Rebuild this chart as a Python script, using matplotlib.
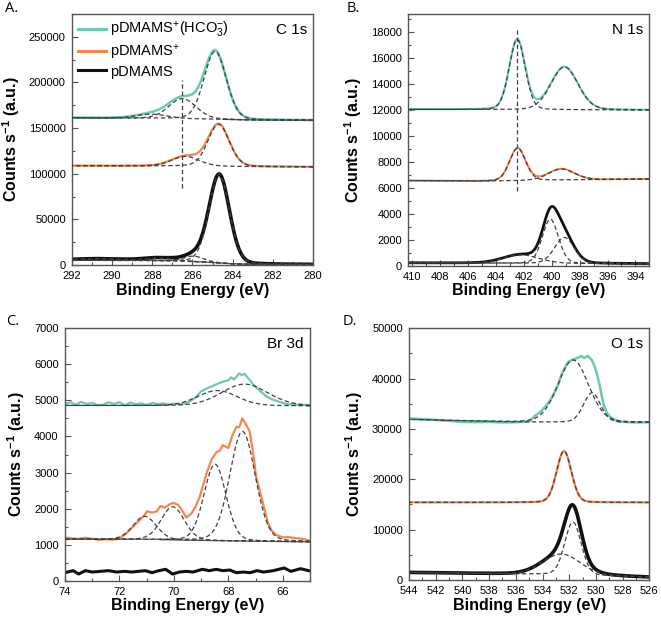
import numpy as np
import matplotlib.pyplot as plt
from matplotlib.ticker import MultipleLocator

plt.rcParams['font.family'] = ['Liberation Sans', 'DejaVu Sans']
plt.rcParams['mathtext.fontset'] = 'custom'
plt.rcParams['mathtext.rm'] = 'Liberation Sans'
plt.rcParams['mathtext.it'] = 'Liberation Sans:italic'
plt.rcParams['mathtext.bf'] = 'Liberation Sans:bold'

TEAL = '#6cc9b4'
ORANGE = '#f9844f'
BLACK = '#111111'
FIT = '#404040'

# ---------------------------------------------------------
# Fit components: (centre eV, height, FWHM eV)
# Backgrounds: anchor energies / counts
# ---------------------------------------------------------
# C 1s
c1s_hco3_peaks = [(284.87, 74200, 1.30), (286.50, 22000, 1.60), (288.00, 4500, 1.80)]
c1s_hco3_bg_e = [292, 288, 285, 283, 280]
c1s_hco3_bg_y = [161300, 160800, 159800, 158900, 158600]
c1s_plus_peaks = [(284.70, 46000, 1.25), (286.35, 10500, 1.60)]
c1s_plus_bg_e = [292, 286, 283, 280]
c1s_plus_bg_y = [108800, 108500, 107800, 107500]
c1s_neutral_peaks = [(284.67, 97000, 1.20), (285.95, 6000, 1.20), (287.60, 3000, 1.80), (290.60, 1800, 3.00)]
c1s_neutral_bg_e = [292, 288, 286, 285, 284, 283, 280]
c1s_neutral_bg_y = [5200, 4700, 3800, 2800, 1300, 700, 500]
c1s_guide = (286.54, 84000, 202600)

# N 1s
n1s_hco3_peaks = [(402.48, 5400, 1.35), (399.09, 3300, 2.30)]
n1s_hco3_bg_e = [410.3, 393]
n1s_hco3_bg_y = [12050, 12000]
n1s_plus_peaks = [(402.45, 2500, 1.35), (399.30, 850, 2.20)]
n1s_plus_bg_e = [410.3, 405, 400, 393]
n1s_plus_bg_y = [6560, 6520, 6600, 6680]
n1s_neutral_peaks = [(400.10, 3400, 1.36), (399.09, 2000, 1.67), (402.20, 650, 3.00)]
n1s_neutral_bg_e = [410.3, 393]
n1s_neutral_bg_y = [220, 150]
n1s_guide = (402.48, 5750, 18250)

# Br 3d
br3d_hco3_peaks = [(68.40, 420, 1.70), (67.40, 600, 2.00)]
br3d_hco3_bg_e = [74, 65]
br3d_hco3_bg_y = [4860, 4850]
br3d_plus_peaks = [(71.07, 640, 1.00), (70.04, 920, 1.00), (68.49, 2120, 0.95), (67.48, 3040, 1.10)]
br3d_plus_bg_e = [74, 71, 70, 68, 66, 65]
br3d_plus_bg_y = [1150, 1145, 1130, 1105, 1085, 1080]

br3d_hco3_e = [74.0, 73.8, 73.6, 73.4, 73.2, 73.0, 72.8, 72.6, 72.4, 72.2, 72.0, 71.8, 71.6, 71.4,
               71.2, 71.0, 70.8, 70.6, 70.4, 70.2, 70.0, 69.8, 69.6, 69.4, 69.2, 69.0, 68.8, 68.6,
               68.4, 68.2, 68.0, 67.9, 67.8, 67.7, 67.6, 67.5, 67.4, 67.3, 67.2, 67.1, 67.0, 66.8,
               66.6, 66.4, 66.2, 66.0, 65.8, 65.6, 65.4, 65.2, 65.0]
br3d_hco3_y = [4900, 4950, 4880, 4960, 4900, 4930, 4870, 4880, 4950, 4900, 4950, 4860, 4940, 4890,
               4920, 4870, 4930, 4900, 4920, 4880, 4910, 4890, 4920, 4980, 5080, 5250, 5330, 5390,
               5460, 5520, 5560, 5640, 5580, 5660, 5750, 5700, 5740, 5640, 5560, 5450, 5380, 5240,
               5110, 5030, 4980, 4930, 4890, 4900, 4870, 4880, 4840]
br3d_plus_e = [74.0, 73.75, 73.5, 73.25, 73.0, 72.75, 72.5, 72.25, 72.0, 71.75, 71.5, 71.25, 71.1,
               70.98, 70.8, 70.63, 70.5, 70.33, 70.15, 70.02, 69.84, 69.7, 69.54, 69.35, 69.2, 69.05,
               68.8, 68.62, 68.44, 68.3, 68.2, 68.0, 67.85, 67.7, 67.6, 67.49, 67.34, 67.22, 67.1,
               66.98, 66.85, 66.73, 66.55, 66.4, 66.24, 66.0, 65.8, 65.63, 65.39, 65.2, 65.0]
br3d_plus_y = [1200, 1175, 1160, 1190, 1165, 1130, 1150, 1135, 1170, 1310, 1500, 1690, 1800,
               1930, 1890, 1920, 2070, 2030, 2120, 2160, 2100, 1950, 1750, 1870, 2060, 2330,
               2980, 3350, 3560, 3620, 3760, 3680, 4030, 4270, 4250, 4500, 4320, 4140, 3600,
               2890, 2500, 2150, 1600, 1380, 1270, 1200, 1210, 1190, 1170, 1150, 1100]
br3d_neutral_e = [74.0, 73.7, 73.5, 73.25, 73.0, 72.7, 72.4, 72.1, 71.8, 71.55, 71.3, 71.05, 70.8,
                  70.55, 70.3, 70.05, 69.8, 69.55, 69.3, 68.95, 68.7, 68.45, 68.2, 67.95, 67.7,
                  67.45, 67.2, 66.95, 66.7, 66.35, 65.95, 65.7, 65.35, 65.05]
br3d_neutral_y = [222, 278, 185, 278, 240, 259, 278, 240, 259, 240, 259, 278, 222, 278, 315, 185,
                  240, 259, 240, 315, 278, 315, 278, 296, 222, 240, 222, 278, 240, 278, 352, 259,
                  333, 278]

# O 1s
o1s_hco3_peaks = [(531.70, 12350, 2.70), (530.29, 5850, 1.50)]
o1s_hco3_bg_e = [544, 536, 526]
o1s_hco3_bg_y = [31900, 31400, 31300]
o1s_hco3_e = [544, 543, 542, 541, 540, 539, 538, 537, 536, 535, 534.56, 534.2, 533.8, 533.4,
              533.07, 532.8, 532.6, 532.3, 532.07, 531.7, 531.3, 531.07, 530.9, 530.6, 530.3,
              530.1, 529.9, 529.7, 529.55, 529.4, 529.2, 529.0, 528.8, 528.3, 527.5, 526.8, 526]
o1s_hco3_y = [32100, 31950, 31800, 31600, 31400, 31350, 31400, 31300, 31350, 31500, 32640, 33300,
              34400, 35800, 37400, 39000, 40700, 42300, 43360, 43800, 44200, 44500, 44100, 44500,
              43700, 42500, 40700, 38500, 36400, 34700, 33300, 32600, 32100, 31500, 31350, 31300,
              31350]
o1s_plus_peaks = [(532.39, 10200, 1.30)]
o1s_plus_bg_e = [544, 526]
o1s_plus_bg_y = [15420, 15400]
o1s_neutral_peaks = [(531.72, 10500, 1.45), (532.57, 4100, 3.30)]
o1s_neutral_bg_e = [544, 536, 534, 530, 528, 526]
o1s_neutral_bg_y = [1500, 1200, 1150, 900, 750, 550]


def pv(e, centre, height, fwhm, eta=0.12):
    x = (e - centre) / fwhm
    g = np.exp(-4 * np.log(2) * x ** 2)
    l = 1.0 / (1.0 + 4 * x ** 2)
    return height * ((1 - eta) * g + eta * l)


def draw_spectrum(ax, grid, peaks, bg_e, bg_y, color, lw, meas_e=None, meas_y=None, solid_bg=None):
    if bg_e[0] > bg_e[-1]:
        bg = np.interp(grid, bg_e[::-1], bg_y[::-1])
    else:
        bg = np.interp(grid, bg_e, bg_y)
    comps = [pv(grid, *p) for p in peaks]
    envelope = bg + np.sum(comps, axis=0)
    if meas_e is None:
        ax.plot(grid, envelope, color=color, lw=lw, zorder=2)
    else:
        ax.plot(meas_e, meas_y, color=color, lw=lw, zorder=2)
    if solid_bg is not None:
        m = grid <= solid_bg
        ax.plot(grid[m], bg[m], color='#555555', lw=0.9, zorder=3)
    for c in comps:
        ax.plot(grid, bg + c, color=FIT, lw=0.9, ls=(0, (3.5, 2.2)), zorder=4)


fig = plt.figure(figsize=(6.61, 6.25), dpi=100)
axA = fig.add_axes([0.1089, 0.576, 0.3646, 0.4016])
axB = fig.add_axes([0.6177, 0.5749, 0.3646, 0.4027])
axC = fig.add_axes([0.0983, 0.0709, 0.3707, 0.4038])
axD = fig.add_axes([0.6188, 0.0720, 0.3635, 0.4027])

# A. C 1s
g = np.linspace(280, 292, 800)
draw_spectrum(axA, g, c1s_neutral_peaks, c1s_neutral_bg_e, c1s_neutral_bg_y, BLACK, 2.6, solid_bg=286)
draw_spectrum(axA, g, c1s_plus_peaks, c1s_plus_bg_e, c1s_plus_bg_y, ORANGE, 1.6)
draw_spectrum(axA, g, c1s_hco3_peaks, c1s_hco3_bg_e, c1s_hco3_bg_y, TEAL, 1.8, solid_bg=284.5)
axA.plot([c1s_guide[0]] * 2, c1s_guide[1:], color=FIT, lw=0.9, ls=(0, (3.5, 2.2)), zorder=4)
axA.set_xlim(292, 280)
axA.set_ylim(0, 275000)
axA.xaxis.set_major_locator(MultipleLocator(2))
axA.xaxis.set_minor_locator(MultipleLocator(1))
axA.yaxis.set_major_locator(MultipleLocator(50000))
axA.yaxis.set_minor_locator(MultipleLocator(25000))
hA = [plt.Line2D([], [], color=TEAL, lw=2.2), plt.Line2D([], [], color=ORANGE, lw=2.2),
      plt.Line2D([], [], color=BLACK, lw=2.2)]
axA.legend(hA, [r'pDMAMS$^{+}$(HCO$_3^{-}$)', r'pDMAMS$^{+}$', 'pDMAMS'], loc='upper left',
           frameon=False, fontsize=10.5, handlelength=1.9, handletextpad=0.3, labelspacing=0.18,
           borderaxespad=0.0, bbox_to_anchor=(0.0, 0.998))

# B. N 1s
g = np.linspace(393, 410.3, 800)
draw_spectrum(axB, g, n1s_neutral_peaks, n1s_neutral_bg_e, n1s_neutral_bg_y, BLACK, 2.0)
draw_spectrum(axB, g, n1s_plus_peaks, n1s_plus_bg_e, n1s_plus_bg_y, ORANGE, 1.4)
draw_spectrum(axB, g, n1s_hco3_peaks, n1s_hco3_bg_e, n1s_hco3_bg_y, TEAL, 1.5)
axB.plot([n1s_guide[0]] * 2, n1s_guide[1:], color=FIT, lw=0.9, ls=(0, (3.5, 2.2)), zorder=4)
axB.set_xlim(410.3, 393)
axB.set_ylim(0, 19400)
axB.xaxis.set_major_locator(MultipleLocator(2))
axB.xaxis.set_minor_locator(MultipleLocator(1))
axB.yaxis.set_major_locator(MultipleLocator(2000))
axB.yaxis.set_minor_locator(MultipleLocator(1000))

# C. Br 3d
g = np.linspace(65, 74, 800)
draw_spectrum(axC, g, [], br3d_plus_bg_e, br3d_plus_bg_y, BLACK, 2.2, br3d_neutral_e, br3d_neutral_y)
draw_spectrum(axC, g, br3d_plus_peaks, br3d_plus_bg_e, br3d_plus_bg_y, ORANGE, 1.6,
              br3d_plus_e, br3d_plus_y, solid_bg=70.5)
draw_spectrum(axC, g, br3d_hco3_peaks, br3d_hco3_bg_e, br3d_hco3_bg_y, TEAL, 1.6,
              br3d_hco3_e, br3d_hco3_y)
axC.set_xlim(74, 65)
axC.set_ylim(0, 7000)
axC.xaxis.set_major_locator(MultipleLocator(2))
axC.xaxis.set_minor_locator(MultipleLocator(1))
axC.yaxis.set_major_locator(MultipleLocator(1000))
axC.yaxis.set_minor_locator(MultipleLocator(500))

# D. O 1s
g = np.linspace(526, 544, 800)
draw_spectrum(axD, g, o1s_neutral_peaks, o1s_neutral_bg_e, o1s_neutral_bg_y, BLACK, 2.6)
draw_spectrum(axD, g, o1s_plus_peaks, o1s_plus_bg_e, o1s_plus_bg_y, ORANGE, 1.6)
draw_spectrum(axD, g, o1s_hco3_peaks, o1s_hco3_bg_e, o1s_hco3_bg_y, TEAL, 1.8, o1s_hco3_e, o1s_hco3_y)
axD.set_xlim(544, 526)
axD.set_ylim(0, 50000)
axD.xaxis.set_major_locator(MultipleLocator(2))
axD.xaxis.set_minor_locator(MultipleLocator(1))
axD.yaxis.set_major_locator(MultipleLocator(10000))
axD.yaxis.set_minor_locator(MultipleLocator(5000))

for ax, tag in zip([axA, axB, axC, axD], ['C 1s', 'N 1s', 'Br 3d', 'O 1s']):
    ax.tick_params(which='both', direction='in', top=False, right=False, labelsize=8,
                   color='#555555', width=0.8)
    ax.tick_params(which='major', length=4, pad=4.5)
    ax.tick_params(which='minor', length=2.2)
    for sp in ax.spines.values():
        sp.set_color('#555555')
        sp.set_linewidth(1.0)
    ax.set_xlabel('Binding Energy (eV)', fontsize=11.5, fontweight='bold', labelpad=1)
    ax.set_ylabel(r'Counts s$^{\mathbf{-1}}$ (a.u.)', fontsize=11.5, fontweight='bold', labelpad=5)
    ax.text(0.975, 0.965, tag, transform=ax.transAxes, ha='right', va='top', fontsize=11)

for x, y, s in [(0.007, 0.998, 'A.'), (0.524, 0.998, 'B.'), (0.010, 0.498, 'C.'), (0.518, 0.498, 'D.')]:
    fig.text(x, y, s, ha='left', va='top', fontsize=10.5, family=['Open Sans', 'DejaVu Sans'])

fig.savefig('out.png', dpi=100)
